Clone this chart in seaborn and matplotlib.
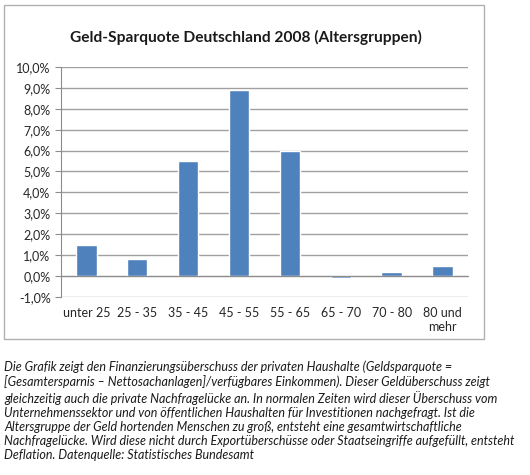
import numpy as np
import pandas as pd
import matplotlib
matplotlib.use('Agg')
import matplotlib.pyplot as plt
from matplotlib.patches import Rectangle
from matplotlib.ticker import FuncFormatter
import seaborn as sns

# data
altersgruppen = ["unter 25", "25 - 35", "35 - 45", "45 - 55", "55 - 65", "65 - 70", "70 - 80", "80 und\nmehr"]
sparquote = [1.5, 0.8, 5.5, 8.9, 6.0, -0.1, 0.2, 0.5]
y_ticks = [-1, 0, 1, 2, 3, 4, 5, 6, 7, 8, 9, 10]

titel = "Geld-Sparquote Deutschland 2008 (Altersgruppen)"
beschreibung = [
    "Die Grafik zeigt den Finanzierungsüberschuss der privaten Haushalte (Geldsparquote =",
    "[Gesamtersparnis \u2013 Nettosachanlagen]/verfügbares Einkommen). Dieser Geldüberschuss zeigt",
    "gleichzeitig auch die private Nachfragelücke an. In normalen Zeiten wird dieser Überschuss vom",
    "Unternehmenssektor und von öffentlichen Haushalten für Investitionen nachgefragt. Ist die",
    "Altersgruppe der Geld hortenden Menschen zu groß, entsteht eine gesamtwirtschaftliche",
    "Nachfragelücke. Wird diese nicht durch Exportüberschüsse oder Staatseingriffe aufgefüllt, entsteht",
    "Deflation. Datenquelle: Statistisches Bundesamt",
]

df = pd.DataFrame({"gruppe": altersgruppen, "quote": sparquote})

sns.set_style("white")
plt.rcParams['font.family'] = ['Lato', 'DejaVu Sans']

fig = plt.figure(figsize=(5.30, 4.75), dpi=100)
ax = fig.add_axes([0.115, 0.375, 0.768, 0.484])

sns.barplot(data=df, x="gruppe", y="quote", color="#4f81bd", width=0.4,
            saturation=1, ax=ax, zorder=3)

ax.set_ylim(-1, 10)
ax.set_xlim(-0.5, len(altersgruppen) - 0.5)
ax.set_yticks(y_ticks)
ax.yaxis.set_major_formatter(FuncFormatter(lambda v, p: ("%.1f%%" % v).replace(".", ",")))
ax.grid(axis="y", color="#a0a0a0", lw=1, zorder=0)
ax.set_xlabel("")
ax.set_ylabel("")

for s in ["top", "right"]:
    ax.spines[s].set_visible(False)
ax.spines["left"].set_color("#8c8c8c")
ax.spines["bottom"].set_color("#8c8c8c")
ax.spines["bottom"].set_position(("data", 0))
ax.spines["bottom"].set_zorder(4)

ax.set_xticks(np.arange(-0.5, len(altersgruppen), 1.0), minor=True)
ax.tick_params(axis="x", which="minor", length=4, color="#8c8c8c", direction="out")
ax.tick_params(axis="x", which="major", length=0, pad=22, labelsize=9, labelcolor="#262626")
ax.tick_params(axis="y", length=4, color="#8c8c8c", left=True, labelsize=9, labelcolor="#262626")
for lbl in ax.get_xticklabels():
    lbl.set_horizontalalignment("center")
    lbl.set_multialignment("center")

fig.text(0.464, 0.922, titel, ha="center", va="center", fontsize=11.2, fontweight="bold", color="#1a1a1a")

# gray frame round the chart area
fig.patches.append(Rectangle((4 / 530, 1 - 339 / 475), 480 / 530, 334 / 475,
                             transform=fig.transFigure, fill=False, edgecolor="#b0b0b0", lw=1))

fig.text(0.008, 1 - 360 / 475, "\n".join(beschreibung), ha="left", va="top",
         fontsize=9, style="italic", color="#1a1a1a", linespacing=1.22)

fig.savefig("out.png", dpi=100)
